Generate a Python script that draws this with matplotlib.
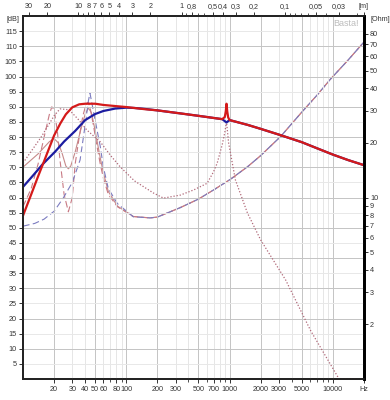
import numpy as np
import matplotlib.pyplot as plt

plt.rcParams['font.family'] = ['Liberation Sans', 'DejaVu Sans']

# SPL, vented box (thick red)
f_red = [10, 12, 14, 16, 18, 20, 23, 26, 30, 35, 40, 50, 60, 80, 100, 150, 200, 334,
         500, 700, 850, 900, 920, 935, 950, 970, 1000, 1500, 2000, 3000, 5000, 7000,
         10000, 14000, 20000]
spl_red = [54, 61, 67, 72, 76.5, 80.5, 84.5, 87.5, 89.8, 90.8, 91, 91, 90.6, 90.2, 89.9,
           89.2, 88.8, 87.8, 87.0, 86.3, 85.9, 86.6, 88.5, 91.0, 88.5, 86.5, 85.6, 84.0,
           82.7, 80.8, 78.3, 76.3, 74.2, 72.4, 70.7]

# SPL, closed box (thick blue)
f_blue = [10, 12.6, 15.5, 20.4, 25, 32, 40, 50, 60, 78, 100, 120, 150, 200, 334, 500,
          700, 850, 935, 1000, 1500, 2000, 3000, 5000, 7000, 10000, 14000, 20000]
spl_blue = [63.5, 67.4, 71, 75.1, 78.5, 82, 85.6, 87.6, 88.6, 89.4, 89.7, 89.6, 89.3,
            88.8, 87.8, 87.0, 86.3, 85.9, 84.8, 85.6, 84.0, 82.7, 80.8, 78.3, 76.3,
            74.2, 72.4, 70.7]

# dotted curve (dB)
f_dot = [10, 15, 20, 22.8, 28, 35, 41.5, 56, 70, 87, 120, 183, 229, 334, 450, 607, 700,
         760, 850, 900, 935, 980, 1140, 1490, 2000, 3500, 6100, 11500, 20000]
db_dot = [71.4, 80, 87, 89.3, 89, 85.5, 82.3, 78.4, 74, 70.2, 65.5, 61.5, 59.8, 60.8,
          62.5, 64.7, 68.5, 71.4, 77.5, 81.5, 85, 78, 65.8, 54.9, 46, 32.7, 16, 0, 0]

# impedance curves (Ohm), common part above ~170 Hz
f_hf = [170, 200, 334, 500, 700, 1020, 1500, 2000, 3130, 5000, 7000, 9500, 14000, 20000]
z_hf = [7.72, 7.8, 8.8, 9.8, 11.0, 12.6, 14.8, 17.0, 21.7, 29.5, 36.5, 44.9, 57, 71.8]

f_zc = [10, 13, 16, 20, 24.5, 30, 35.7, 40, 43, 44.5, 46, 49, 53, 56, 60, 67, 82, 117]
z_closed = [6.95, 7.2, 7.6, 8.4, 9.92, 12.1, 16.1, 25.1, 34.1, 37.6, 34.1, 28.2, 22.4,
            19.1, 14.7, 11.2, 9.26, 7.83]

f_zv = [10, 12, 14, 16, 18, 19, 20, 21.5, 22.8, 25, 27.5, 30, 32, 35, 38, 41, 43, 45,
        48, 52, 56, 60, 67, 82, 117]
z_vented = [8.91, 11.2, 15.3, 21.5, 28.7, 31.6, 30.5, 23.3, 16.1, 10.4, 8.34, 10.0,
            15.3, 21.5, 28.2, 32.9, 33.5, 30.5, 25.1, 19.2, 15.3, 12.8, 10.4, 8.9, 7.85]

f_zt = [10, 14, 18, 20, 22, 24, 26, 27.5, 29, 32, 36, 40, 43, 46, 50, 56, 60, 67, 82, 117]
z_thin = [14.7, 17.4, 20.3, 21.1, 20.0, 17.4, 14.9, 14.4, 14.9, 17.8, 23.3, 28.8, 31.1,
          29.3, 23.3, 16.5, 13.7, 10.8, 8.97, 7.86]

x_ticks = [20, 30, 40, 50, 60, 80, 100, 200, 300, 500, 700, 1000, 2000, 3000, 5000, 10000, 20000]
x_labels = ['20', '30', '40', '50', '60', '80', '100', '200', '300', '500', '700', '1000',
            '2000', '3000', '5000', '10000', 'Hz']
wl_ticks = [30, 20, 10, 8, 7, 6, 5, 4, 3, 2, 1, 0.8, 0.5, 0.4, 0.3, 0.2, 0.1, 0.05, 0.03]
wl_labels = ['30', '20', '10', '8', '7', '6', '5', '4', '3', '2', '1', '0,8', '0,5', '0,4',
             '0,3', '0,2', '0,1', '0,05', '0,03']
z_ticks = [2, 3, 4, 5, 6, 7, 8, 9, 10, 20, 30, 40, 50, 60, 70, 80]
c_sound = 343.0

fig = plt.figure(figsize=(3.9, 4.0), dpi=100)
ax = fig.add_axes([0.059, 0.0525, 0.874, 0.9075])
axz = ax.twinx()
ax.set_zorder(axz.get_zorder() + 1)
ax.patch.set_visible(False)

ax.set_xscale('log')
ax.set_xlim(10, 20000)
ax.set_ylim(0, 120)
axz.set_yscale('log')
axz.set_ylim(1, 100)

# grid
minor_f = [d * 10**k for k in range(1, 5) for d in range(1, 10) if 10 < d * 10**k < 20000]
for fv in minor_f:
    d = round(fv / 10**int(np.floor(np.log10(fv))))
    ax.axvline(fv, color='#c4c4c4' if d in (1, 2, 5) else '#e6e6e6', lw=0.7, zorder=0)
for yv in range(5, 120, 5):
    ax.axhline(yv, color='#c4c4c4' if yv % 10 == 0 else '#e8e8e8', lw=0.7, zorder=0)

# impedance curves
axz.plot(f_zt + f_hf, z_thin + z_hf, color='#c68a8a', lw=0.8)
axz.plot(f_zv + f_hf, z_vented + z_hf, color='#c87a84', lw=0.8, dashes=(6, 3))
axz.plot(f_zc + f_hf, z_closed + z_hf, color='#7c7cc0', lw=0.8, dashes=(6, 3))

# SPL curves
ax.plot(f_dot, db_dot, color='#b06878', lw=0.9, dashes=(1, 1.5))
ax.plot(f_blue, spl_blue, color='#1c1ca0', lw=1.6)
ax.plot(f_red, spl_red, color='#d41a1a', lw=1.6)

fs = 5.2
tick_kw = dict(labelsize=fs, labelcolor='#333333', color='#333333', length=3, width=0.7)
ax.set_xticks(x_ticks)
ax.set_xticklabels(x_labels)
ax.set_xticks([v for v in minor_f if v not in x_ticks], minor=True)
ax.xaxis.set_minor_formatter(plt.NullFormatter())
ax.tick_params(axis='x', which='major', pad=2, **tick_kw)
ax.tick_params(axis='x', which='minor', length=2, width=0.6, color='#333333')
ax.set_yticks(range(5, 120, 5))
ax.tick_params(axis='y', which='major', pad=1.5, **tick_kw)

axz.set_yticks(z_ticks)
axz.set_yticklabels([str(v) for v in z_ticks])
axz.yaxis.set_minor_locator(plt.NullLocator())
axz.tick_params(axis='y', pad=1.5, **tick_kw)

# wavelength axis on top
axt = ax.twiny()
axt.set_xscale('log')
axt.set_xlim(10, 20000)
axt.set_xticks([c_sound / w for w in wl_ticks] + [20000])
axt.set_xticklabels(wl_labels + ['[m]'])
minor_wl = [d * 10**k for k in range(-2, 2) for d in range(1, 10)]
axt.set_xticks([c_sound / w for w in minor_wl if 10 < c_sound / w < 20000 and w not in wl_ticks],
               minor=True)
axt.xaxis.set_minor_formatter(plt.NullFormatter())
axt.tick_params(axis='x', which='major', pad=1.5, **tick_kw)
axt.tick_params(axis='x', which='minor', length=2, width=0.6, color='#333333')

for a in (ax, axz, axt):
    for s in a.spines.values():
        s.set_color('#222222')
        s.set_linewidth(1.1)
    a.spines['right'].set_color('black')
    a.spines['right'].set_linewidth(1.8)

ax.text(-0.012, 0.99, '[dB]', transform=ax.transAxes, ha='right', va='center',
        fontsize=fs, color='#333333')
ax.text(1.018, 0.99, '[Ohm]', transform=ax.transAxes, ha='left', va='center',
        fontsize=fs, color='#333333')
ax.text(0.985, 0.98, 'Basta!', transform=ax.transAxes, ha='right', va='center',
        fontsize=6.5, color='#bdbdbd')

fig.savefig('out.png', dpi=100)
